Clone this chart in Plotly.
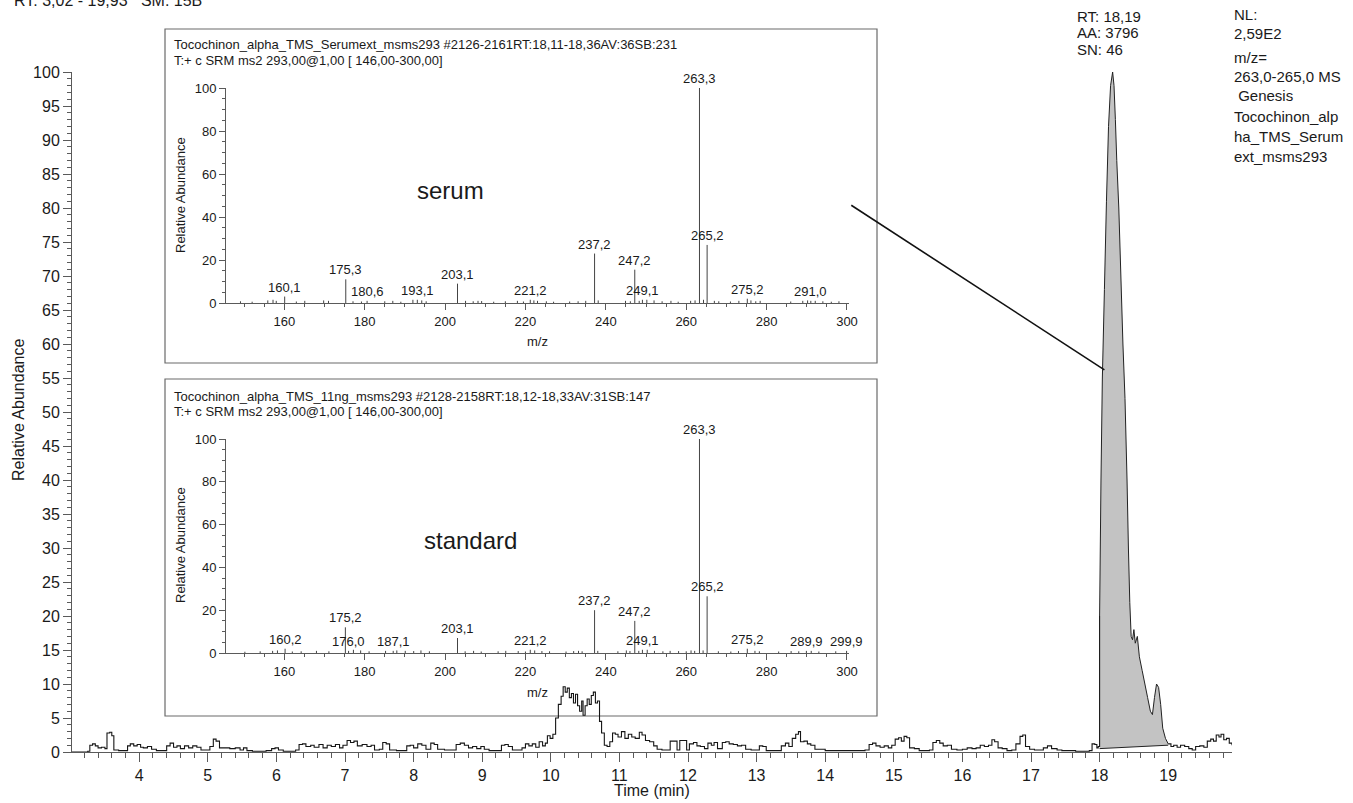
import plotly.graph_objects as go

FONT = "Liberation Sans, Arial, sans-serif"
INK = "#1a1a1a"
AXC = "#5a5a5a"

# ---------------- main chromatogram (Time in min, Relative Abundance %) ----------------
rt_time = [3.02, 3.10, 3.20, 3.25, 3.28, 3.32, 3.36, 3.40, 3.45, 3.50, 3.53, 3.57, 3.60, 3.63, 3.70, 3.78,
           3.83, 3.87, 3.92, 3.97, 4.02, 4.06, 4.12, 4.18, 4.25, 4.32, 4.40, 4.45, 4.50, 4.55, 4.60, 4.66,
           4.72, 4.78, 4.84, 4.90, 4.97, 5.03, 5.08, 5.12, 5.17, 5.25, 5.32, 5.40, 5.47, 5.52, 5.57, 5.65,
           5.75, 5.85, 5.93, 5.98, 6.03, 6.10, 6.20, 6.28, 6.33, 6.38, 6.43, 6.50, 6.55, 6.62, 6.68, 6.74,
           6.80, 6.86, 6.92, 6.97, 7.03, 7.08, 7.13, 7.18, 7.25, 7.32, 7.38, 7.43, 7.50, 7.55, 7.60, 7.65,
           7.75, 7.85, 7.90, 7.95, 8.00, 8.06, 8.12, 8.18, 8.25, 8.30, 8.35, 8.45, 8.55, 8.62, 8.68, 8.74,
           8.80, 8.86, 8.92, 8.98, 9.03, 9.10, 9.20, 9.28, 9.33, 9.38, 9.44, 9.52, 9.58, 9.63, 9.68, 9.73,
           9.78, 9.83, 9.88, 9.92, 9.95, 9.99, 10.03, 10.07, 10.11, 10.15, 10.18, 10.21, 10.24, 10.27, 10.30,
           10.33, 10.36, 10.39, 10.42, 10.45, 10.47, 10.50, 10.53, 10.56, 10.59, 10.62, 10.65, 10.68, 10.71,
           10.74, 10.78, 10.82, 10.86, 10.90, 10.94, 10.98, 11.03, 11.08, 11.13, 11.18, 11.23, 11.29, 11.33,
           11.38, 11.44, 11.50, 11.55, 11.62, 11.70, 11.74, 11.80, 11.84, 11.88, 11.94, 11.98, 12.02, 12.08,
           12.13, 12.18, 12.24, 12.29, 12.34, 12.38, 12.43, 12.50, 12.55, 12.60, 12.66, 12.72, 12.78, 12.84,
           12.92, 12.98, 13.04, 13.09, 13.14, 13.22, 13.30, 13.36, 13.42, 13.47, 13.52, 13.57, 13.61, 13.64,
           13.69, 13.74, 13.79, 13.85, 13.92, 14.00, 14.10, 14.20, 14.30, 14.40, 14.50, 14.58, 14.64, 14.69,
           14.74, 14.80, 14.86, 14.92, 14.97, 15.02, 15.07, 15.11, 15.15, 15.19, 15.23, 15.30, 15.37, 15.45,
           15.52, 15.57, 15.62, 15.67, 15.72, 15.78, 15.84, 15.92, 16.00, 16.07, 16.14, 16.20, 16.26, 16.32,
           16.38, 16.43, 16.47, 16.52, 16.58, 16.65, 16.72, 16.78, 16.84, 16.88, 16.92, 16.98, 17.05, 17.12,
           17.18, 17.24, 17.30, 17.38, 17.45, 17.55, 17.65, 17.75, 17.85, 17.89, 17.93, 17.96,
           17.98, 18.00, 18.02, 18.04, 18.07, 18.10, 18.13, 18.16, 18.19, 18.21, 18.23, 18.25, 18.28, 18.31,
           18.34, 18.37, 18.40, 18.42, 18.44, 18.46, 18.48, 18.50, 18.52, 18.55, 18.58, 18.62, 18.66, 18.70,
           18.74, 18.77, 18.80, 18.83, 18.86, 18.89, 18.92, 18.96, 19.00,
           19.04, 19.08, 19.13, 19.18, 19.24, 19.30, 19.35, 19.40, 19.46, 19.52, 19.57, 19.62, 19.66, 19.70,
           19.74, 19.77, 19.81, 19.85, 19.89, 19.93]
rt_abund = [0.0, 0.0, 0.0, 0.1, 1.0, 1.2, 0.9, 0.6, 0.7, 0.5, 2.8, 2.9, 2.4, 0.3, 0.2, 0.2,
            0.9, 1.2, 0.9, 1.1, 0.7, 0.6, 0.8, 0.4, 0.2, 0.2, 0.9, 1.3, 0.7, 0.9, 0.5, 0.9,
            0.6, 0.9, 0.7, 0.3, 0.3, 0.8, 1.9, 1.6, 0.6, 0.6, 0.5, 0.6, 0.3, 0.6, 0.2, 0.1,
            0.1, 0.2, 0.5, 0.6, 0.3, 0.1, 0.1, 0.3, 1.1, 1.2, 0.8, 1.0, 0.7, 1.1, 0.6, 1.0,
            0.8, 1.1, 0.6, 1.0, 1.7, 1.4, 1.6, 0.9, 1.1, 0.8, 1.0, 0.3, 0.4, 1.4, 1.2, 0.3,
            0.2, 0.2, 0.9, 1.0, 0.6, 1.2, 1.0, 0.4, 1.3, 1.1, 0.4, 0.3, 0.3, 1.1, 1.3, 1.0,
            0.6, 0.8, 0.5, 0.8, 0.4, 0.2, 0.2, 1.0, 1.1, 0.8, 0.3, 0.3, 0.6, 1.2, 0.9, 1.2,
            0.7, 1.5, 0.9, 1.3, 2.4, 2.0, 2.6, 5.0, 7.0, 8.2, 9.6, 8.8, 9.4, 8.0, 8.6,
            7.2, 8.5, 6.8, 6.0, 7.5, 5.4, 6.8, 7.8, 7.0, 8.3, 8.8, 7.2, 7.5, 4.5,
            2.8, 1.0, 0.8, 1.5, 2.8, 2.6, 2.2, 3.0, 2.0, 2.6, 2.2, 2.0, 2.9, 2.5,
            1.7, 1.5, 0.9, 0.4, 0.3, 0.3, 1.6, 1.6, 0.3, 1.7, 1.7, 0.3, 1.2, 1.4,
            0.9, 0.8, 0.5, 1.3, 1.0, 1.4, 0.5, 1.4, 1.5, 1.2, 1.1, 0.9, 1.0, 0.4,
            0.3, 0.3, 0.9, 0.8, 0.2, 0.2, 0.2, 0.9, 1.3, 0.8, 2.0, 2.6, 3.0, 1.5,
            1.6, 1.2, 1.0, 0.4, 0.4, 0.2, 0.2, 0.2, 0.2, 0.2, 0.2, 0.3, 1.1, 1.3,
            0.9, 0.7, 0.9, 0.6, 1.0, 1.9, 2.1, 1.6, 2.3, 2.1, 0.6, 0.5, 0.2, 0.2,
            0.3, 1.4, 1.7, 1.3, 0.9, 1.0, 0.4, 0.3, 0.4, 0.6, 0.5, 0.6, 1.0, 0.8,
            1.0, 1.8, 1.5, 0.6, 0.5, 0.2, 0.3, 1.2, 2.3, 2.5, 0.8, 0.4, 0.3, 0.3,
            0.6, 0.9, 0.5, 0.3, 0.2, 0.2, 0.1, 0.1, 0.2, 1.2, 1.1, 0.6,
            0.8, 20.0, 40.0, 55.0, 68.0, 81.0, 92.0, 98.0, 100.0, 98.0, 93.0, 87.0, 80.0, 70.0,
            60.0, 52.0, 40.0, 30.0, 22.0, 17.0, 16.5, 18.0, 16.0, 17.0, 14.0, 12.0, 10.0, 8.0,
            6.0, 5.5, 8.0, 10.0, 9.5, 7.0, 3.5, 2.0, 1.2,
            0.8, 1.0, 0.7, 1.0, 0.8, 0.5, 0.3, 0.8, 0.9, 0.7, 1.6, 1.9, 1.6, 2.5,
            2.2, 2.6, 1.8, 2.0, 1.3, 1.0]

# integrated peak (gray area) limits and its baseline
fill_time = [18.00, 19.00]
fill_base_abund = [0.5, 1.0]

# pointer line from the inset to the peak
connector_time = [14.38, 18.07]
connector_abund = [80.4, 56.2]

# ---------------- MS/MS spectra ----------------
serum_label_mz = [160.1, 175.3, 180.6, 193.1, 203.1, 221.2, 237.2, 247.2, 249.1, 263.3, 265.2, 275.2, 291.0]
serum_label_int = [3.0, 11.0, 1.0, 1.5, 9.0, 1.5, 23.0, 15.5, 1.5, 100.0, 27.0, 2.0, 1.0]
serum_noise_mz = [149.1, 152.0, 155.9, 157.2, 158.0, 163.0, 165.1, 169.8, 171.0, 177.1, 179.2, 185.0,
                  187.0, 189.0, 192.0, 194.2, 195.3, 205.1, 207.0, 208.2, 209.1, 212.1, 215.0, 218.0,
                  219.5, 222.1, 223.0, 225.2, 227.0, 231.0, 233.1, 235.0, 238.1, 244.9, 246.1, 248.3,
                  250.2, 252.0, 254.0, 256.2, 258.0, 261.1, 262.2, 264.3, 267.0, 268.1, 271.0, 273.1,
                  276.1, 277.3, 278.4, 286.0, 289.0, 290.2, 292.1, 294.0, 296.1, 298.0]
serum_noise_int = [0.8, 0.6, 1.2, 1.5, 1.0, 0.7, 1.0, 1.2, 1.0, 0.8, 0.7, 0.8,
                   1.0, 0.6, 1.5, 1.2, 0.8, 1.0, 0.8, 1.0, 0.9, 0.6, 0.8, 1.0,
                   0.7, 1.2, 1.0, 0.8, 0.6, 0.7, 0.8, 1.0, 1.2, 1.0, 0.8, 1.0,
                   1.5, 1.2, 0.8, 1.0, 0.6, 1.0, 1.2, 1.5, 1.0, 0.8, 0.7, 1.0,
                   1.2, 0.8, 1.0, 0.7, 1.0, 1.2, 1.0, 0.8, 0.6, 0.8]

std_label_mz = [160.2, 175.2, 176.0, 187.1, 203.1, 221.2, 237.2, 247.2, 249.1, 263.3, 265.2, 275.2, 289.9, 299.9]
std_label_int = [2.0, 12.0, 1.0, 1.0, 7.0, 1.5, 20.0, 15.0, 1.5, 100.0, 26.5, 2.0, 1.0, 1.0]
std_noise_mz = [150.2, 154.0, 157.1, 158.3, 162.0, 164.2, 168.0, 171.1, 177.2, 179.0, 181.1, 185.2,
                188.0, 190.1, 192.2, 194.0, 196.1, 205.0, 207.1, 209.0, 213.2, 215.1, 218.2, 220.0,
                222.3, 224.1, 226.0, 230.1, 232.0, 233.2, 234.1, 238.0, 243.0, 245.1, 246.0, 248.2,
                250.3, 252.1, 254.2, 256.0, 258.1, 260.0, 261.2, 262.1, 264.2, 268.0, 271.1, 273.0,
                277.1, 278.2, 283.0, 286.1, 288.0, 291.1, 293.0, 297.2]
std_noise_int = [0.6, 0.8, 1.0, 1.2, 0.7, 0.8, 1.0, 0.8, 1.5, 1.2, 0.8, 1.0,
                 1.2, 1.0, 0.9, 1.2, 0.8, 0.8, 1.0, 0.7, 0.8, 1.0, 0.9, 0.7,
                 1.2, 0.9, 0.8, 0.7, 0.9, 1.0, 0.8, 1.0, 0.8, 1.2, 0.9, 1.0,
                 1.5, 1.0, 0.8, 1.0, 0.9, 0.8, 1.2, 1.0, 1.2, 0.8, 0.7, 0.9,
                 1.0, 0.8, 0.7, 0.9, 0.8, 1.0, 0.7, 0.8]

serum_header = ["Tocochinon_alpha_TMS_Serumext_msms293 #2126-2161RT:18,11-18,36AV:36SB:231",
                "T:+ c SRM ms2 293,00@1,00 [ 146,00-300,00]"]
std_header = ["Tocochinon_alpha_TMS_11ng_msms293 #2128-2158RT:18,12-18,33AV:31SB:147",
              "T:+ c SRM ms2 293,00@1,00 [ 146,00-300,00]"]

top_left_text = "RT: 3,02 - 19,93   SM: 15B"
peak_info = ["RT: 18,19", "AA: 3796", "SN: 46"]
nl_info = ["NL:", "2,59E2", "m/z=", "263,0-265,0 MS", " Genesis", "Tocochinon_alp", "ha_TMS_Serum", "ext_msms293"]

# ---------------- layout geometry (pixels) ----------------
W, H = 1353, 803
PL, PR, PT, PB = 72, 1232, 72, 752


def px(xp):
    return (xp - PL) / (PR - PL)


def py(yp):
    return (PB - yp) / (PB - PT)


fig = go.Figure()

# gray integrated area: baseline trace, then the peak curve filled down to it
pk_t = [t for t in rt_time if fill_time[0] <= t <= fill_time[1]]
pk_v = [v for t, v in zip(rt_time, rt_abund) if fill_time[0] <= t <= fill_time[1]]
fig.add_trace(go.Scatter(x=fill_time, y=fill_base_abund, mode="lines",
                         line=dict(color="#222222", width=1), hoverinfo="skip", showlegend=False))
fig.add_trace(go.Scatter(x=pk_t, y=pk_v, mode="lines", fill="tonexty", fillcolor="#c3c3c3",
                         line=dict(color="#222222", width=1, simplify=False),
                         hoverinfo="skip", showlegend=False))

# noisy baseline outside the integrated peak drawn as steps
left_t = [t for t in rt_time if t <= fill_time[0]]
left_v = [v for t, v in zip(rt_time, rt_abund) if t <= fill_time[0]]
right_t = [t for t in rt_time if t >= fill_time[1]]
right_v = [v for t, v in zip(rt_time, rt_abund) if t >= fill_time[1]]
for seg_t, seg_v in [(left_t, left_v), (right_t, right_v)]:
    fig.add_trace(go.Scatter(x=seg_t, y=seg_v, mode="lines",
                             line=dict(color="#151515", width=1.1, shape="hv"), showlegend=False))


def sticks(mz, inten):
    xs, ys = [], []
    for m, v in zip(mz, inten):
        xs += [m, m, None]
        ys += [0, v, None]
    return xs, ys


for (lmz, lint, nmz, nint, xa, ya) in [
        (serum_label_mz, serum_label_int, serum_noise_mz, serum_noise_int, "x2", "y2"),
        (std_label_mz, std_label_int, std_noise_mz, std_noise_int, "x3", "y3")]:
    xs, ys = sticks(nmz + lmz, nint + lint)
    fig.add_trace(go.Scatter(x=xs, y=ys, mode="lines", xaxis=xa, yaxis=ya,
                             line=dict(color="#444444", width=1), showlegend=False))
    for m, v in zip(lmz, lint):
        fig.add_annotation(x=m, y=v, xref=xa, yref=ya, text=f"{m:.1f}".replace(".", ","),
                           showarrow=False, yanchor="bottom", yshift=0,
                           font=dict(family=FONT, size=13, color=INK))

axis_common = dict(showgrid=False, zeroline=False, showline=True, linecolor=AXC, linewidth=1,
                   ticks="outside", tickcolor=AXC, tickwidth=1)

fig.update_layout(
    width=W, height=H, autosize=False,
    margin=dict(l=PL, r=W - PR, t=PT, b=H - PB),
    paper_bgcolor="white", plot_bgcolor="white",
    font=dict(family=FONT, color=INK),
    xaxis=dict(range=[3.02, 19.93], tickmode="linear", tick0=0, dtick=1, ticklen=9,
               tickfont=dict(size=16), minor=dict(ticks="outside", dtick=0.2, tick0=0, ticklen=5,
                                                 tickcolor=AXC), **axis_common),
    yaxis=dict(range=[0, 100], tickmode="linear", tick0=0, dtick=5, ticklen=8,
               tickfont=dict(size=16), minor=dict(ticks="outside", dtick=1, tick0=0, ticklen=4,
                                                 tickcolor=AXC), **axis_common),
)

inset_x = dict(domain=[px(226), px(849)], range=[145.5, 300.5], tickmode="linear", tick0=0, dtick=20,
               ticklen=6, tickfont=dict(size=13),
               minor=dict(ticks="outside", dtick=5, tick0=0, ticklen=3, tickcolor=AXC), **axis_common)
inset_y = dict(range=[0, 100], tickmode="linear", tick0=0, dtick=20, ticklen=6, tickfont=dict(size=13),
               minor=dict(ticks="outside", dtick=5, tick0=0, ticklen=3, tickcolor=AXC), **axis_common)
fig.update_layout(
    xaxis2=dict(anchor="y2", **inset_x),
    yaxis2=dict(anchor="x2", domain=[py(303), py(88)], **inset_y),
    xaxis3=dict(anchor="y3", **inset_x),
    yaxis3=dict(anchor="x3", domain=[py(653), py(439)], **inset_y),
)

# inset frames
for top, bot in [(29, 363), (379, 716)]:
    fig.add_shape(type="rect", xref="paper", yref="paper", x0=px(165), x1=px(877), y0=py(bot), y1=py(top),
                  line=dict(color="#6a6a6a", width=1.2), fillcolor="rgba(0,0,0,0)", layer="below")

# connector line
fig.add_shape(type="line", xref="x", yref="y", x0=connector_time[0], y0=connector_abund[0],
              x1=connector_time[1], y1=connector_abund[1], line=dict(color="#111111", width=1.6))


def text(t, xp, yp, size, xanchor="left", yanchor="middle", angle=0):
    fig.add_annotation(x=px(xp), y=py(yp), xref="paper", yref="paper", text=t, showarrow=False,
                       xanchor=xanchor, yanchor=yanchor, textangle=angle,
                       font=dict(family=FONT, size=size, color=INK))


text(top_left_text, 12, 1, 16)
for i, t in enumerate(peak_info):
    text(t, 1075, 16 + 17 * i, 15)
nl_y = [14, 34, 57, 77, 96, 116, 136, 156]
for t, y in zip(nl_info, nl_y):
    text(t, 1232, y, 15)

text(serum_header[0], 172, 45, 13)
text(serum_header[1], 172, 60, 13)
text(std_header[0], 172, 396, 13)
text(std_header[1], 172, 411, 13)
text("serum", 450, 190, 24, xanchor="center")
text("standard", 470, 540, 24, xanchor="center")
text("m/z", 537, 341, 13, xanchor="center")
text("m/z", 537, 692, 13, xanchor="center")
text("Relative Abundance", 180, 195, 13, xanchor="center", angle=-90)
text("Relative Abundance", 180, 545, 13, xanchor="center", angle=-90)
text("Relative Abundance", 18, 410, 16, xanchor="center", angle=-90)
text("Time (min)", 652, 790, 16, xanchor="center")

fig.write_html("out.html", config={"displayModeBar": False},
               post_script="document.body.style.margin='0px';document.body.style.overflow='hidden';")
